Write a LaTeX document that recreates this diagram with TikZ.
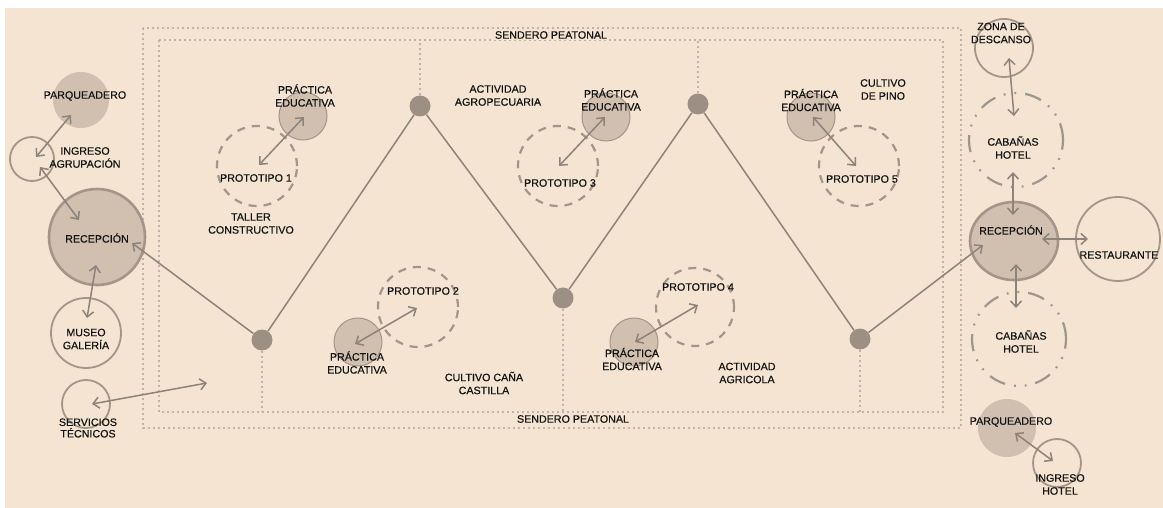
\documentclass[tikz,border=0pt]{standalone}
\usepackage{fontspec}
\setmainfont{Liberation Sans}
\newfontfamily\lblfont{Liberation Sans}[FakeBold=0.45]
\usetikzlibrary{arrows.meta,shapes.geometric}
\definecolor{bg}{HTML}{F4E4D1}
\definecolor{fillc}{HTML}{D1C0AF}
\definecolor{edgec}{HTML}{A39689}
\definecolor{linec}{HTML}{8C837B}
\definecolor{dotc}{HTML}{9C8F84}
\definecolor{pathc}{HTML}{BDB3AA}
\definecolor{txt}{HTML}{141414}
\tikzset{
  fcirc/.style={circle,fill=fillc,draw=edgec,line width=1pt,inner sep=0pt},
  bigcirc/.style={circle,fill=fillc,draw=edgec,line width=2.6pt,inner sep=0pt},
  ecirc/.style={circle,draw=edgec,line width=1.8pt,inner sep=0pt},
  proto/.style={circle,draw=edgec,line width=2.2pt,dash pattern=on 8pt off 7pt,inner sep=0pt},
  cabin/.style={circle,draw=linec!85,line width=2.2pt,dash pattern=on 17pt off 9pt on 1.8pt off 9pt on 1.8pt off 9pt,inner sep=0pt},
  dotnode/.style={circle,fill=dotc,inner sep=0pt,minimum size=21pt},
  lbl/.style={text=txt,align=center,inner sep=0pt,font=\lblfont\fontsize{10.7}{13}\selectfont},
  arr/.style={draw=linec,line width=1.5pt,{Straight Barb[length=6pt,width=11pt]}-{Straight Barb[length=6pt,width=11pt]}},
  zig/.style={draw=linec,line width=1.5pt},
  sendero/.style={draw=pathc,line width=2pt,dash pattern=on 2pt off 3pt},
}
\begin{document}
\begin{tikzpicture}[x=1pt,y=-1pt]
\useasboundingbox (0,0) rectangle (1163,508);
\fill[bg] (5,8) rectangle (1163,508);
% path rectangles
\draw[sendero] (143,28) rectangle (961,428);
\draw[sendero] (159,40) rectangle (943,412);
% zigzag dots
\node[dotnode] (d1) at (262,340) {};
\node[dotnode] (d2) at (420,106) {};
\node[dotnode] (d3) at (563,298) {};
\node[dotnode] (d4) at (698,104) {};
\node[dotnode] (d5) at (860,339) {};
\coordinate (t2) at (420,40);
\coordinate (t4) at (698,40);
\coordinate (b1) at (262,412);
\coordinate (b3) at (563,412);
\coordinate (b5) at (860,412);
\draw[sendero] (d2) -- (t2);
\draw[sendero] (d4) -- (t4);
\draw[sendero] (d1) -- (b1);
\draw[sendero] (d3) -- (b3);
\draw[sendero] (d5) -- (b5);
% left circles
\node[fcirc,draw=none,minimum size=56pt] (parqL) at (81,100) {};
\node[ecirc,minimum size=44pt] (ingA) at (32,159) {};
\node[bigcirc,minimum size=96pt] (recL) at (97,237) {};
\node[ecirc,minimum size=70pt] (museo) at (86,333) {};
\node[ecirc,minimum size=48pt] (serv) at (86,404) {};
% middle circles
\node[fcirc,minimum size=48pt] (pe1) at (303,116) {};
\node[proto,minimum size=80pt] (pr1) at (257,166) {};
\node[fcirc,minimum size=48pt] (pe3) at (606,117) {};
\node[proto,minimum size=80pt] (pr3) at (558,166) {};
\node[fcirc,minimum size=48pt] (pe5) at (811,117) {};
\node[proto,minimum size=80pt] (pr5) at (859,166) {};
\node[fcirc,minimum size=48pt] (pe2) at (358,342) {};
\node[proto,minimum size=80pt] (pr2) at (418,307) {};
\node[fcirc,minimum size=48pt] (pe4) at (634,342) {};
\node[proto,minimum size=78pt] (pr4) at (695,307) {};
% right circles
\node[ecirc,minimum size=58pt] (zona) at (1004,48) {};
\node[cabin,minimum size=94pt] (cab1) at (1016,140) {};
\node[ellipse,fill=fillc,draw=edgec,line width=2.6pt,inner sep=0pt,minimum width=88pt,minimum height=78pt] (recR) at (1014,241) {};
\node[ecirc,minimum size=84pt] (rest) at (1118,239) {};
\node[cabin,minimum size=94pt] (cab2) at (1019,339) {};
\node[fcirc,draw=none,minimum size=58pt] (parqR) at (1007,428) {};
\node[ecirc,minimum size=48pt] (ingH) at (1057,463) {};
% zigzag
\coordinate (zl) at (132,243);
\coordinate (zr) at (983,245);
\draw[zig,-{Straight Barb[length=6pt,width=11pt]}] (d1) -- (zl);
\draw[zig] (d1) -- (d2) -- (d3) -- (d4) -- (d5);
\draw[zig,-{Straight Barb[length=6pt,width=11pt]}] (d5) -- (zr);
% arrow end points
\coordinate (a1s) at (71,115);   \coordinate (a1e) at (36,157);
\coordinate (a2s) at (40,167);   \coordinate (a2e) at (79,220);
\coordinate (a3s) at (96,265);   \coordinate (a3e) at (87,318);
\coordinate (a4s) at (92,404);   \coordinate (a4e) at (207,383);
\coordinate (a5s) at (304,117);  \coordinate (a5e) at (259,165);
\coordinate (a6s) at (605,117);  \coordinate (a6e) at (559,166);
\coordinate (a7s) at (813,117);  \coordinate (a7e) at (856,166);
\coordinate (a8s) at (355,344);  \coordinate (a8e) at (417,308);
\coordinate (a9s) at (635,342);  \coordinate (a9e) at (698,305);
\coordinate (a10s) at (1009,58); \coordinate (a10e) at (1014,116);
\coordinate (a11s) at (1013,172);\coordinate (a11e) at (1013,215);
\coordinate (a12s) at (1042,239);\coordinate (a12e) at (1088,239);
\coordinate (a13s) at (1016,264);\coordinate (a13e) at (1016,308);
\coordinate (a14s) at (1015,433);\coordinate (a14e) at (1053,461);
\foreach \i in {1,...,14} {\draw[arr] (a\i s) -- (a\i e);}
% labels
\node[lbl] (lparqL) at (85,96) {PARQUEADERO};
\node[lbl] (lingA) at (85,157.5) {INGRESO\\AGRUPACIÓN};
\node[lbl] (lrecL) at (97,238) {RECEPCIÓN};
\node[lbl] (lmuseo) at (86,339) {MUSEO\\GALERÍA};
\node[lbl,font=\lblfont\fontsize{10.7}{11.5}\selectfont] (lserv) at (88,428) {SERVICIOS\\TÉCNICOS};
\node[lbl] (lpe1) at (305,95.5) {PRÁCTICA\\EDUCATIVA};
\node[lbl] (lpr1) at (256,178) {PROTOTIPO 1};
\node[lbl] (ltaller) at (251,223.5) {TALLER\\CONSTRUCTIVO};
\node[lbl] (lagro) at (498,95.5) {ACTIVIDAD\\AGROPECUARIA};
\node[lbl] (lpe3) at (611,99.5) {PRÁCTICA\\EDUCATIVA};
\node[lbl] (lpr3) at (560,183) {PROTOTIPO 3};
\node[lbl] (lpe5) at (811,100) {PRÁCTICA\\EDUCATIVA};
\node[lbl] (lpino) at (883,89.5) {CULTIVO\\DE PINO};
\node[lbl] (lpr5) at (862,179) {PROTOTIPO 5};
\node[lbl] (lpr2) at (423,291) {PROTOTIPO 2};
\node[lbl] (lpe2) at (357,362.5) {PRÁCTICA\\EDUCATIVA};
\node[lbl] (lcana) at (484,383) {CULTIVO CAÑA\\CASTILLA};
\node[lbl] (lpr4) at (698,287) {PROTOTIPO 4};
\node[lbl] (lpe4) at (632,359) {PRÁCTICA\\EDUCATIVA};
\node[lbl] (lagri) at (747,373) {ACTIVIDAD\\AGRICOLA};
\node[lbl,fill=bg,inner sep=1pt] (lsendT) at (551,35) {SENDERO PEATONAL};
\node[lbl,fill=bg,inner sep=1pt] (lsendB) at (573,419) {SENDERO PEATONAL};
\node[lbl] (lzona) at (1001,33) {ZONA DE\\DESCANSO};
\node[lbl] (lcab1) at (1013,147.5) {CABAÑAS\\HOTEL};
\node[lbl] (lrecR) at (1011,230) {RECEPCIÓN};
\node[lbl] (lrest) at (1119,255) {RESTAURANTE};
\node[lbl] (lcab2) at (1021,341.5) {CABAÑAS\\HOTEL};
\node[lbl] (lparqR) at (1011,422) {PARQUEADERO};
\node[lbl] (lingH) at (1060,484.5) {INGRESO\\HOTEL};
\end{tikzpicture}
\end{document}
